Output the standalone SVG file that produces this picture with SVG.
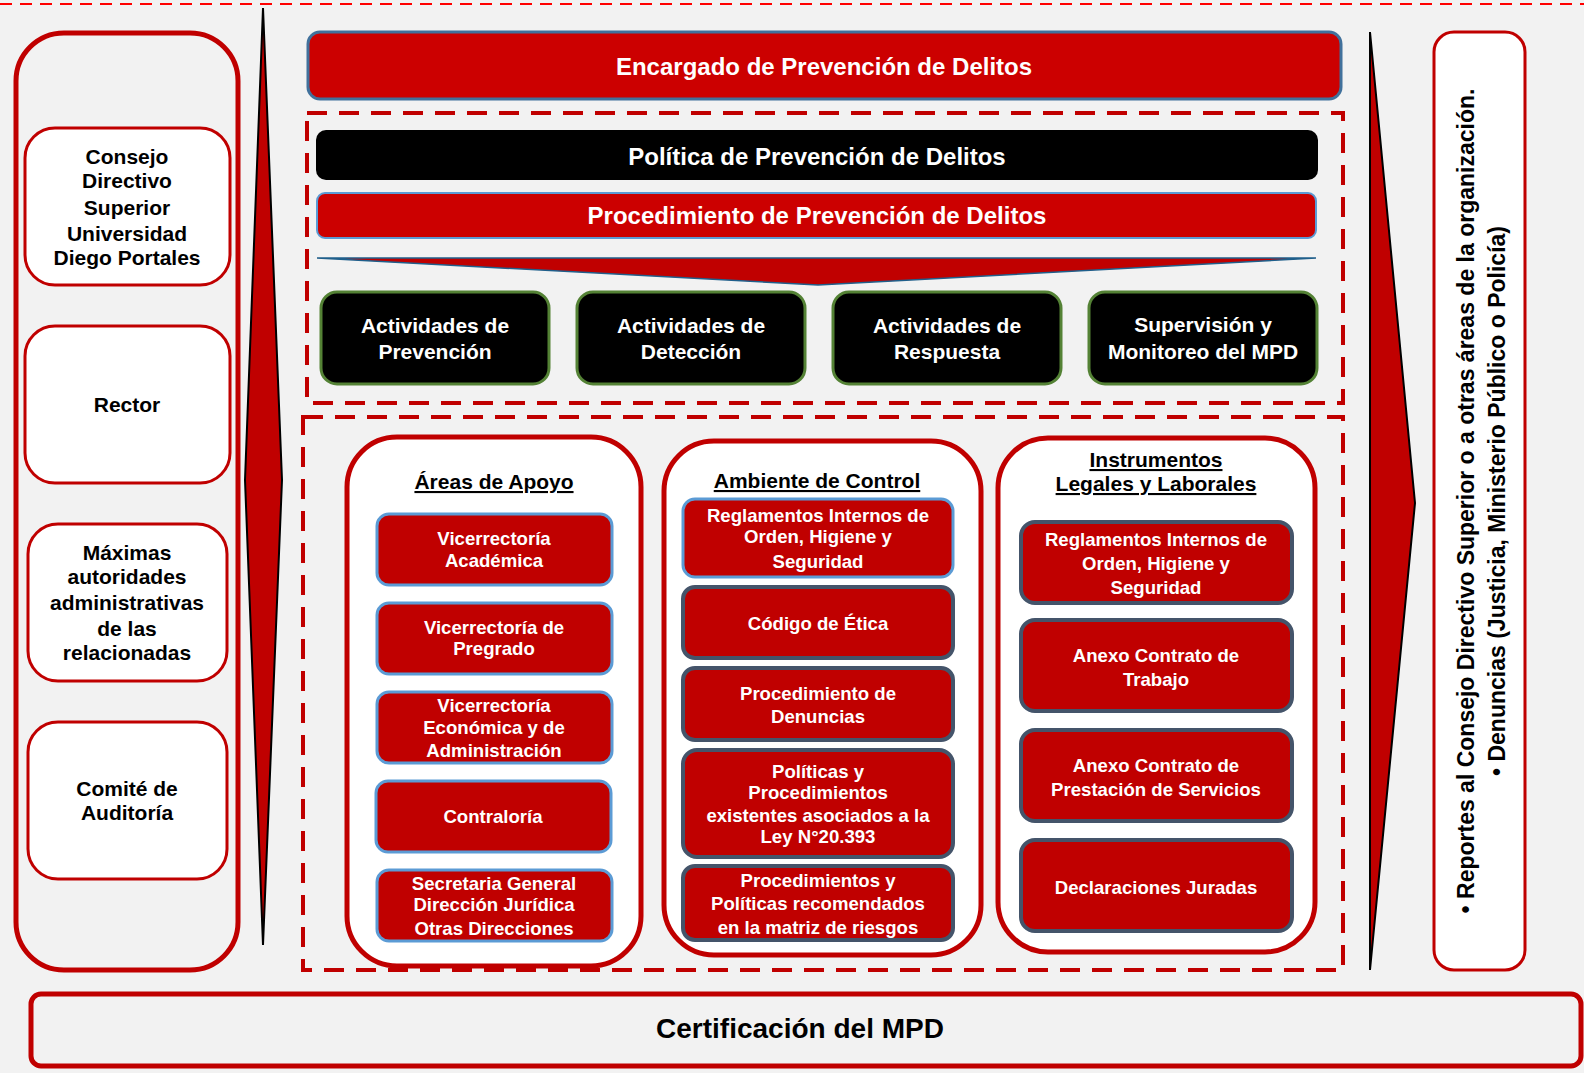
<svg xmlns="http://www.w3.org/2000/svg" width="1584" height="1073" viewBox="0 0 1584 1073">
<style>
text{font-family:"Liberation Sans",Arial,sans-serif;font-weight:bold;text-anchor:middle}
.wt{fill:#fff}
.bt{fill:#000}
.it{font-size:18.6px}
.side{fill:#fff;stroke:#c00000;stroke-width:3}
.panel{fill:#fff;stroke:#c00000;stroke-width:5}
.dash{fill:none;stroke:#c00000;stroke-width:4;stroke-dasharray:20 12}
.itemb{fill:#c00000;stroke:#5b9bd5;stroke-width:3}
.itemd{fill:#c00000;stroke:#44546a;stroke-width:4}
.act{fill:#000;stroke:#548235;stroke-width:3}
</style>
<rect x="0" y="0" width="1584" height="1073" fill="#f2f2f2"/>
<line x1="0" y1="4" x2="1584" y2="4" stroke="#ff0000" stroke-width="2" stroke-dasharray="12 8"/>

<g id="left-panel">
<rect x="16" y="33" width="222" height="937" rx="48" fill="#f2f2f2" stroke="#c00000" stroke-width="5"/>
</g>
<g id="consejo">
<rect class="side" x="25" y="128" width="205" height="157" rx="30"/>
<text class="bt" font-size="21"><tspan x="127" y="164">Consejo</tspan><tspan x="127" y="188">Directivo</tspan><tspan x="127" y="215">Superior</tspan><tspan x="127" y="241">Universidad</tspan><tspan x="127" y="265">Diego Portales</tspan></text>
</g>
<g id="rector">
<rect class="side" x="25" y="326" width="205" height="157" rx="30"/>
<text class="bt" font-size="21" x="127" y="412">Rector</text>
</g>
<g id="maximas">
<rect class="side" x="28" y="524" width="199" height="157" rx="30"/>
<text class="bt" font-size="21"><tspan x="127" y="560">Máximas</tspan><tspan x="127" y="584">autoridades</tspan><tspan x="127" y="610">administrativas</tspan><tspan x="127" y="636">de las</tspan><tspan x="127" y="660">relacionadas</tspan></text>
</g>
<g id="comite">
<rect class="side" x="28" y="722" width="199" height="157" rx="30"/>
<text class="bt" font-size="21"><tspan x="127" y="796">Comité de</tspan><tspan x="127" y="820">Auditoría</tspan></text>
</g>

<g id="connectors">
<polygon points="263,8 282,480 263,945 245,480" fill="#c00000" stroke="#000" stroke-width="2"/>
<polygon points="1370,32 1415,503 1370,970" fill="#c00000" stroke="#000" stroke-width="2"/>
<polygon points="317,258 1316,258 818,285" fill="#c00000" stroke="#1f5f8b" stroke-width="1.5"/>
</g>

<g id="encargado">
<rect x="308" y="32" width="1033" height="67" rx="12" fill="#cc0000" stroke="#41719c" stroke-width="3"/>
<text class="wt" font-size="24" x="824" y="75">Encargado de Prevención de Delitos</text>
</g>

<rect class="dash" x="307" y="113" width="1036" height="290"/>

<g id="politica">
<rect x="316" y="130" width="1002" height="50" rx="10" fill="#000"/>
<text class="wt" font-size="24" x="817" y="165">Política de Prevención de Delitos</text>
</g>
<g id="procedimiento">
<rect x="317" y="193" width="999" height="45" rx="8" fill="#cc0000" stroke="#5b9bd5" stroke-width="2"/>
<text class="wt" font-size="24" x="817" y="224">Procedimiento de Prevención de Delitos</text>
</g>

<g id="act-prevencion">
<rect class="act" x="321" y="292" width="228" height="92" rx="16"/>
<text class="wt" font-size="21"><tspan x="435" y="333">Actividades de</tspan><tspan x="435" y="359">Prevención</tspan></text>
</g>
<g id="act-deteccion">
<rect class="act" x="577" y="292" width="228" height="92" rx="16"/>
<text class="wt" font-size="21"><tspan x="691" y="333">Actividades de</tspan><tspan x="691" y="359">Detección</tspan></text>
</g>
<g id="act-respuesta">
<rect class="act" x="833" y="292" width="228" height="92" rx="16"/>
<text class="wt" font-size="21"><tspan x="947" y="333">Actividades de</tspan><tspan x="947" y="359">Respuesta</tspan></text>
</g>
<g id="act-supervision">
<rect class="act" x="1089" y="292" width="228" height="92" rx="16"/>
<text class="wt" font-size="21"><tspan x="1203" y="332">Supervisión y</tspan><tspan x="1203" y="359">Monitoreo del MPD</tspan></text>
</g>

<rect class="dash" x="303" y="417" width="1040" height="553"/>

<g id="areas-apoyo">
<rect class="panel" x="347" y="437" width="294" height="529" rx="50"/>
<text class="bt" font-size="21" x="494" y="489" text-decoration="underline">Áreas de Apoyo</text>
</g>
<g id="vr-academica">
<rect class="itemb" x="377" y="514" width="235" height="71" rx="12"/>
<text class="wt it"><tspan x="494" y="545">Vicerrectoría</tspan><tspan x="494" y="567">Académica</tspan></text>
</g>
<g id="vr-pregrado">
<rect class="itemb" x="377" y="603" width="235" height="71" rx="12"/>
<text class="wt it"><tspan x="494" y="634">Vicerrectoría de</tspan><tspan x="494" y="655">Pregrado</tspan></text>
</g>
<g id="vr-economica">
<rect class="itemb" x="377" y="692" width="235" height="71" rx="12"/>
<text class="wt it"><tspan x="494" y="712">Vicerrectoría</tspan><tspan x="494" y="734">Económica y de</tspan><tspan x="494" y="757">Administración</tspan></text>
</g>
<g id="contraloria">
<rect class="itemb" x="376" y="781" width="235" height="71" rx="12"/>
<text class="wt it" x="493" y="823">Contraloría</text>
</g>
<g id="secretaria">
<rect class="itemb" x="377" y="870" width="235" height="71" rx="12"/>
<text class="wt it"><tspan x="494" y="890">Secretaria General</tspan><tspan x="494" y="911">Dirección Jurídica</tspan><tspan x="494" y="935">Otras Direcciones</tspan></text>
</g>

<g id="ambiente-control">
<rect class="panel" x="664" y="441" width="317" height="514" rx="50"/>
<text class="bt" font-size="21" x="817" y="488" text-decoration="underline">Ambiente de Control</text>
</g>
<g id="ac-reglamentos">
<rect class="itemb" x="683" y="499" width="270" height="78" rx="12"/>
<text class="wt it"><tspan x="818" y="522">Reglamentos Internos de</tspan><tspan x="818" y="543">Orden, Higiene y</tspan><tspan x="818" y="568">Seguridad</tspan></text>
</g>
<g id="ac-codigo">
<rect class="itemd" x="683" y="587" width="270" height="71" rx="12" stroke-width="3"/>
<text class="wt it" x="818" y="630">Código de Ética</text>
</g>
<g id="ac-denuncias">
<rect class="itemd" x="683" y="668" width="270" height="72" rx="12"/>
<text class="wt it"><tspan x="818" y="700">Procedimiento de</tspan><tspan x="818" y="723">Denuncias</tspan></text>
</g>
<g id="ac-politicas">
<rect class="itemd" x="683" y="750" width="270" height="107" rx="14" stroke-width="3"/>
<text class="wt it"><tspan x="818" y="778">Políticas y</tspan><tspan x="818" y="799">Procedimientos</tspan><tspan x="818" y="822">existentes asociados a la</tspan><tspan x="818" y="843">Ley N°20.393</tspan></text>
</g>
<g id="ac-recomendados">
<rect class="itemd" x="683" y="866" width="270" height="74" rx="12" stroke-width="5"/>
<text class="wt it"><tspan x="818" y="887">Procedimientos y</tspan><tspan x="818" y="910">Políticas recomendados</tspan><tspan x="818" y="934">en la matriz de riesgos</tspan></text>
</g>

<g id="instrumentos">
<rect class="panel" x="998" y="438" width="317" height="514" rx="50"/>
<text class="bt" font-size="21" text-decoration="underline"><tspan x="1156" y="467">Instrumentos</tspan><tspan x="1156" y="491">Legales y Laborales</tspan></text>
</g>
<g id="il-reglamentos">
<rect class="itemd" x="1021" y="522" width="271" height="81" rx="14" stroke-width="5"/>
<text class="wt it"><tspan x="1156" y="546">Reglamentos Internos de</tspan><tspan x="1156" y="570">Orden, Higiene y</tspan><tspan x="1156" y="594">Seguridad</tspan></text>
</g>
<g id="il-trabajo">
<rect class="itemd" x="1021" y="620" width="271" height="91" rx="14" stroke-width="5"/>
<text class="wt it"><tspan x="1156" y="662">Anexo Contrato de</tspan><tspan x="1156" y="686">Trabajo</tspan></text>
</g>
<g id="il-servicios">
<rect class="itemd" x="1021" y="730" width="271" height="91" rx="14" stroke-width="5"/>
<text class="wt it"><tspan x="1156" y="772">Anexo Contrato de</tspan><tspan x="1156" y="796">Prestación de Servicios</tspan></text>
</g>
<g id="il-declaraciones">
<rect class="itemd" x="1021" y="840" width="271" height="91" rx="14" stroke-width="5"/>
<text class="wt it" x="1156" y="894">Declaraciones Juradas</text>
</g>

<g id="reportes">
<rect x="1434" y="32" width="91" height="938" rx="20" fill="#fff" stroke="#c00000" stroke-width="3"/>
<text class="bt" font-size="23" transform="translate(1474,501) rotate(-90)">• Reportes al Consejo Directivo Superior o a otras áreas de la organización.</text>
<text class="bt" font-size="23" transform="translate(1505,501) rotate(-90)">• Denuncias (Justicia, Ministerio Público o Policía)</text>
</g>

<g id="certificacion">
<rect x="31" y="994" width="1550" height="72" rx="10" fill="#f2f2f2" stroke="#c00000" stroke-width="5"/>
<text class="bt" font-size="28" x="800" y="1038">Certificación del MPD</text>
</g>
</svg>
